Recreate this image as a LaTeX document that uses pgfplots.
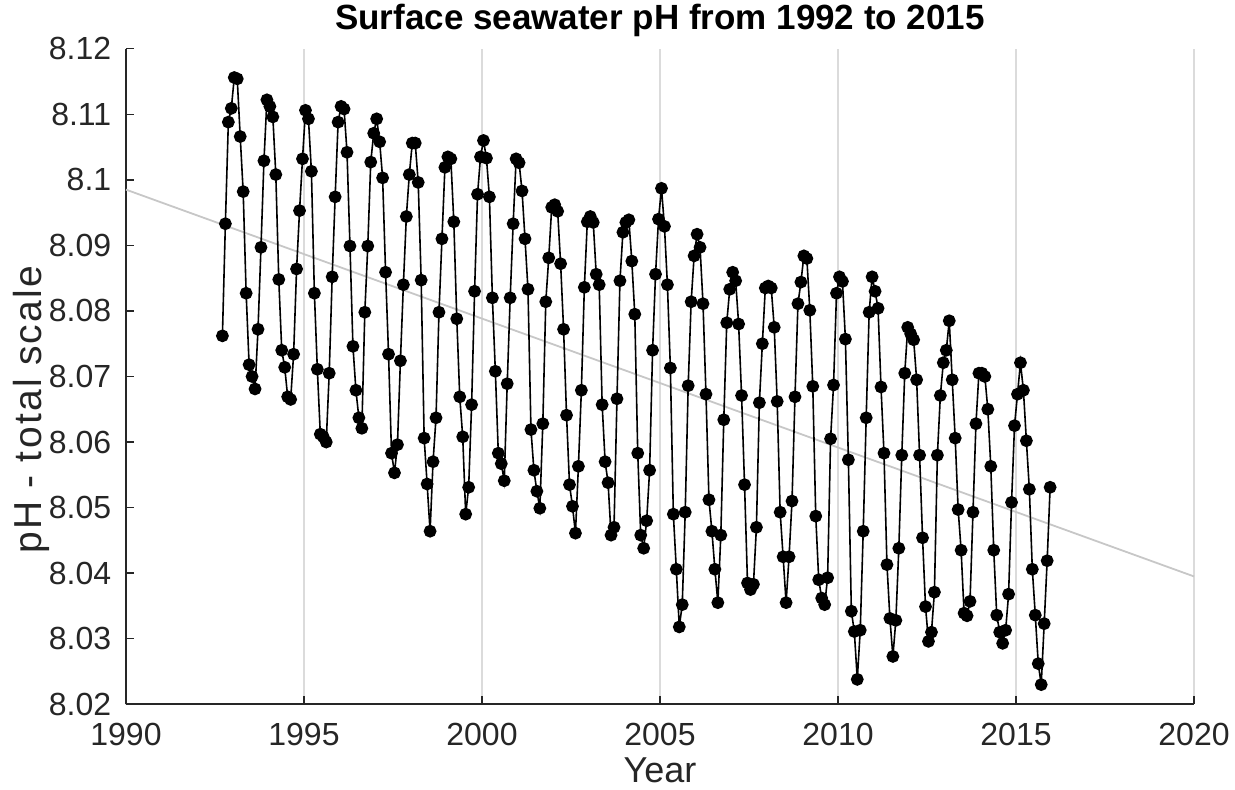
\documentclass[border=0pt]{standalone}
\usepackage{fontspec}
\setmainfont{Liberation Sans}
\newfontfamily\ylabfont[LetterSpace=6]{Liberation Sans}
\usepackage{pgfplots}
\usepackage{pgfplotstable}
\pgfplotsset{compat=1.18}
\definecolor{axcol}{gray}{0.15}
\definecolor{gridcol}{gray}{0.86}
\definecolor{trendcol}{gray}{0.78}

% monthly surface seawater pH, Sep 1992 ... Dec 2015 (one row per month)
\pgfplotstableread[row sep=\\]{
ph\\
8.0762\\ 8.0933\\ 8.1088\\ 8.1109\\ % 1992 Sep-Dec
8.1156\\ 8.1154\\ 8.1066\\ 8.0982\\ 8.0827\\ 8.0718\\ 8.0700\\ 8.0681\\ 8.0772\\ 8.0897\\ 8.1029\\ 8.1122\\ % 1993
8.1112\\ 8.1096\\ 8.1008\\ 8.0848\\ 8.0740\\ 8.0714\\ 8.0669\\ 8.0665\\ 8.0734\\ 8.0864\\ 8.0953\\ 8.1032\\ % 1994
8.1106\\ 8.1093\\ 8.1013\\ 8.0827\\ 8.0711\\ 8.0612\\ 8.0608\\ 8.0600\\ 8.0705\\ 8.0852\\ 8.0974\\ 8.1088\\ % 1995
8.1112\\ 8.1108\\ 8.1042\\ 8.0899\\ 8.0746\\ 8.0679\\ 8.0637\\ 8.0621\\ 8.0798\\ 8.0899\\ 8.1027\\ 8.1071\\ % 1996
8.1093\\ 8.1058\\ 8.1003\\ 8.0859\\ 8.0734\\ 8.0583\\ 8.0553\\ 8.0596\\ 8.0724\\ 8.0840\\ 8.0944\\ 8.1008\\ % 1997
8.1056\\ 8.1056\\ 8.0996\\ 8.0847\\ 8.0606\\ 8.0536\\ 8.0464\\ 8.0570\\ 8.0637\\ 8.0798\\ 8.0910\\ 8.1019\\ % 1998
8.1035\\ 8.1032\\ 8.0936\\ 8.0788\\ 8.0669\\ 8.0608\\ 8.0490\\ 8.0531\\ 8.0657\\ 8.0830\\ 8.0978\\ 8.1035\\ % 1999
8.1060\\ 8.1033\\ 8.0974\\ 8.0820\\ 8.0708\\ 8.0583\\ 8.0567\\ 8.0541\\ 8.0689\\ 8.0820\\ 8.0933\\ 8.1032\\ % 2000
8.1026\\ 8.0983\\ 8.0910\\ 8.0833\\ 8.0619\\ 8.0557\\ 8.0525\\ 8.0499\\ 8.0628\\ 8.0814\\ 8.0881\\ 8.0958\\ % 2001
8.0962\\ 8.0952\\ 8.0872\\ 8.0772\\ 8.0641\\ 8.0535\\ 8.0502\\ 8.0461\\ 8.0563\\ 8.0679\\ 8.0836\\ 8.0936\\ % 2002
8.0944\\ 8.0935\\ 8.0856\\ 8.0840\\ 8.0657\\ 8.0570\\ 8.0538\\ 8.0458\\ 8.0470\\ 8.0666\\ 8.0846\\ 8.0920\\ % 2003
8.0935\\ 8.0939\\ 8.0876\\ 8.0795\\ 8.0583\\ 8.0458\\ 8.0438\\ 8.0480\\ 8.0557\\ 8.0740\\ 8.0856\\ 8.0940\\ % 2004
8.0987\\ 8.0929\\ 8.0840\\ 8.0713\\ 8.0490\\ 8.0406\\ 8.0318\\ 8.0352\\ 8.0493\\ 8.0686\\ 8.0814\\ 8.0884\\ % 2005
8.0917\\ 8.0897\\ 8.0811\\ 8.0673\\ 8.0512\\ 8.0464\\ 8.0406\\ 8.0355\\ 8.0458\\ 8.0634\\ 8.0782\\ 8.0833\\ % 2006
8.0859\\ 8.0846\\ 8.0780\\ 8.0671\\ 8.0535\\ 8.0385\\ 8.0375\\ 8.0383\\ 8.0470\\ 8.0660\\ 8.0750\\ 8.0835\\ % 2007
8.0838\\ 8.0835\\ 8.0775\\ 8.0662\\ 8.0493\\ 8.0425\\ 8.0355\\ 8.0425\\ 8.0510\\ 8.0669\\ 8.0811\\ 8.0844\\ % 2008
8.0884\\ 8.0880\\ 8.0801\\ 8.0685\\ 8.0487\\ 8.0390\\ 8.0362\\ 8.0352\\ 8.0393\\ 8.0605\\ 8.0687\\ 8.0827\\ % 2009
8.0852\\ 8.0845\\ 8.0757\\ 8.0573\\ 8.0342\\ 8.0311\\ 8.0238\\ 8.0313\\ 8.0464\\ 8.0637\\ 8.0798\\ 8.0852\\ % 2010
8.0830\\ 8.0804\\ 8.0684\\ 8.0583\\ 8.0413\\ 8.0331\\ 8.0273\\ 8.0328\\ 8.0438\\ 8.0580\\ 8.0705\\ 8.0775\\ % 2011
8.0765\\ 8.0756\\ 8.0695\\ 8.0580\\ 8.0454\\ 8.0349\\ 8.0296\\ 8.0310\\ 8.0371\\ 8.0580\\ 8.0671\\ 8.0721\\ % 2012
8.0740\\ 8.0785\\ 8.0695\\ 8.0606\\ 8.0497\\ 8.0435\\ 8.0339\\ 8.0335\\ 8.0357\\ 8.0493\\ 8.0628\\ 8.0705\\ % 2013
8.0705\\ 8.0700\\ 8.0650\\ 8.0563\\ 8.0435\\ 8.0336\\ 8.0310\\ 8.0293\\ 8.0313\\ 8.0368\\ 8.0508\\ 8.0625\\ % 2014
8.0673\\ 8.0721\\ 8.0679\\ 8.0602\\ 8.0528\\ 8.0406\\ 8.0336\\ 8.0262\\ 8.0230\\ 8.0323\\ 8.0419\\ 8.0531\\ % 2015
}\phdata

\begin{document}
\begin{tikzpicture}
\begin{axis}[
  scale only axis,
  width=534pt, height=327.8pt,
  xmin=1990, xmax=2020, ymin=8.02, ymax=8.12,
  axis x line*=bottom, axis y line*=left,
  axis line style={axcol, line width=0.8pt},
  xtick={1990,1995,2000,2005,2010,2015,2020},
  xticklabels={1990,1995,2000,2005,2010,2015,2020},
  ytick={8.02,8.03,8.04,8.05,8.06,8.07,8.08,8.09,8.1,8.11,8.12},
  yticklabels={8.02,8.03,8.04,8.05,8.06,8.07,8.08,8.09,8.1,8.11,8.12},
  tick align=inside, major tick length=4pt,
  tick style={axcol, line width=0.7pt},
  minor tick num=0,
  xmajorgrids, ymajorgrids=false,
  major grid style={gridcol, line width=0.8pt},
  ticklabel style={font=\fontsize{16}{19}\selectfont, text=axcol},
  xticklabel style={inner sep=0pt, anchor=base, yshift=-20.8pt},
  yticklabel style={inner sep=0pt, anchor=east, xshift=-7.2pt},
  clip=false,
]
\addplot[trendcol, line width=0.9pt, forget plot] coordinates {(1990,8.0985) (2020,8.0395)};
\addplot[black, line width=0.8pt, mark=*, mark size=2.8pt, mark options={fill=black, draw=black}]
  table[x expr={1992+(8.5+\coordindex)/12}, y=ph] {\phdata};
\end{axis}
\node[anchor=base, inner sep=0pt, font=\bfseries\fontsize{17.5}{21}\selectfont, text=black]
  at ([yshift=9.4pt]current axis.north) {Surface seawater pH from 1992 to 2015};
\node[anchor=base, inner sep=0pt, font=\fontsize{18}{21}\selectfont, text=axcol]
  at ([yshift=-38.9pt]current axis.south) {Year};
\node[anchor=base, rotate=90, inner sep=0pt, font=\ylabfont\fontsize{19.5}{23}\selectfont, text=axcol]
  at ([xshift=-42pt,yshift=-16.5pt]current axis.west) {pH - total scale};
\pgfresetboundingbox
\path ([xshift=-63pt,yshift=-42.85pt]current axis.south west) rectangle ([xshift=20.5pt,yshift=24.35pt]current axis.north east);
\end{tikzpicture}
\end{document}
